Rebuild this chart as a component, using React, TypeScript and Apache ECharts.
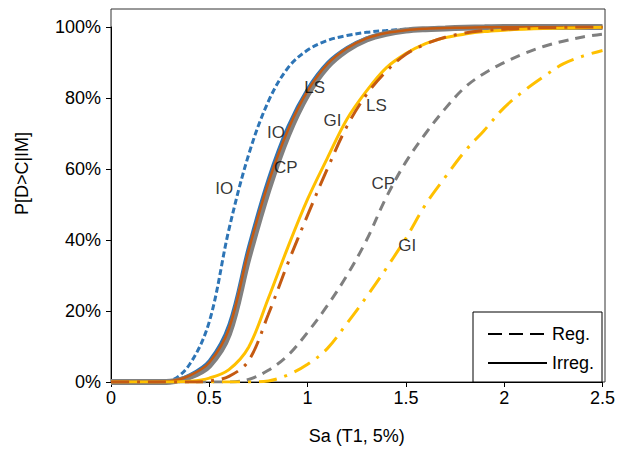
import React, { useEffect, useRef } from "react";
import * as echarts from "echarts";

// Sa (T1, 5%) sample points
const xs = [0, 0.1, 0.2, 0.3, 0.4, 0.5, 0.6, 0.7, 0.8, 0.9, 1.0, 1.1, 1.2, 1.3, 1.4, 1.5, 1.6, 1.7, 1.8, 1.9, 2.0, 2.1, 2.2, 2.3, 2.4, 2.5];

// Regular building fragility curves, P[D>C|IM] in %
const regIO = [0, 0, 0, 0.4, 5, 17, 43, 64, 79, 88.5, 93.5, 96.2, 97.6, 98.5, 99, 99.4, 99.6, 99.7, 99.8, 99.9, 99.9, 100, 100, 100, 100, 100];
const regLS = [0, 0, 0, 0, 0, 0.3, 1.6, 6, 19, 33.5, 47, 60, 72, 81, 87.5, 92.3, 95.2, 97.1, 98.3, 99, 99.4, 99.6, 99.8, 99.9, 100, 100];
const regCP = [0, 0, 0, 0, 0, 0, 0, 0.7, 3.3, 7.5, 14, 21.5, 30, 40, 52, 62, 70, 77, 83, 87, 90, 92.5, 94.5, 96, 97.2, 98];
const regGI = [0, 0, 0, 0, 0, 0, 0, 0, 0.3, 2, 5, 9.4, 16.5, 24, 32, 40.5, 50, 57.7, 65, 71, 77.3, 82, 86, 89.6, 91.8, 93.4];

// Irregular building fragility curves, P[D>C|IM] in %
const irrIO = [0, 0, 0, 0.25, 2, 6, 16.2, 38.2, 57.2, 72, 82.6, 89.9, 94.2, 96.9, 98.4, 99.1, 99.5, 99.7, 99.8, 99.9, 100, 100, 100, 100, 100, 100];
const irrLS = [0, 0, 0, 0.2, 1.8, 5.5, 15, 37, 56, 71, 82, 89.5, 94, 96.8, 98.3, 99.1, 99.5, 99.7, 99.8, 99.9, 100, 100, 100, 100, 100, 100];
const irrCP = [0, 0, 0, 0.1, 1.4, 4.6, 13.5, 35, 54, 69.5, 81, 88.8, 93.5, 96.5, 98.1, 99, 99.4, 99.6, 99.8, 99.9, 100, 100, 100, 100, 100, 100];
const irrGI = [0, 0, 0, 0, 0.2, 1.1, 3.5, 9.8, 23.5, 38, 51.5, 63, 74, 82, 88.5, 92.5, 95.3, 97, 98, 98.7, 99.1, 99.4, 99.6, 99.7, 99.8, 99.9];

// curve annotations
const labelTexts = ["IO", "IO", "CP", "LS", "GI", "LS", "CP", "GI"];
const labelX = [0.576, 0.839, 0.889, 1.036, 1.127, 1.35, 1.385, 1.507];
const labelY = [54.5, 70.3, 60.4, 83.0, 73.7, 77.9, 55.9, 38.5];

// axis ticks
const xTicks = [0, 0.5, 1, 1.5, 2, 2.5];
const yTicks = [0, 20, 40, 60, 80, 100];

const legendNames = ["Reg.", "Irreg."];

const FONT = "'Liberation Sans', Arial, Helvetica, sans-serif";

function pairs(vals: number[]) {
  return xs.map((x, i) => [x, vals[i]]);
}

export default function App() {
  const ref = useRef<HTMLDivElement>(null);
  useEffect(() => {
    document.body.style.margin = "0";
    if (!ref.current) return;
    const chart = echarts.init(ref.current, null, { renderer: "svg" });
    const line = (name: string, vals: number[], color: string, width: number, type: any, z: number) => ({
      name,
      type: "line",
      data: pairs(vals),
      showSymbol: false,
      symbol: "none",
      smooth: 0.35,
      z,
      lineStyle: { color, width, type, cap: "butt" },
      emphasis: { disabled: true },
    });
    const option: any = {
      animation: false,
      grid: { left: 111, right: 13, top: 27, bottom: 69 },
      xAxis: {
        type: "value",
        min: xTicks[0],
        max: xTicks[xTicks.length - 1],
        interval: 0.5,
        name: "Sa (T1, 5%)",
        nameLocation: "middle",
        nameGap: 45,
        nameTextStyle: { fontSize: 18, color: "#000", fontFamily: FONT },
        axisLine: { lineStyle: { color: "#000", width: 1 } },
        axisTick: { show: true, length: 5, lineStyle: { color: "#000" } },
        axisLabel: { fontSize: 18, color: "#000", fontFamily: FONT, margin: 7, formatter: (v: number) => String(v) },
        splitLine: { show: false },
      },
      yAxis: {
        type: "value",
        min: yTicks[0],
        max: yTicks[yTicks.length - 1],
        interval: 20,
        name: "P[D>C|IM]",
        nameLocation: "middle",
        nameRotate: 90,
        nameGap: 80,
        nameTextStyle: { fontSize: 18, color: "#000", fontFamily: FONT, padding: [0, 0, 0, 62] },
        axisLine: { show: true, lineStyle: { color: "#000", width: 1 } },
        axisTick: { show: true, length: 5, lineStyle: { color: "#000" } },
        axisLabel: { fontSize: 18, color: "#000", fontFamily: FONT, margin: 10, formatter: "{value}%" },
        splitLine: { show: false },
      },
      legend: {
        data: legendNames,
        orient: "vertical",
        left: 473,
        top: 312,
        padding: [13, 8, 10, 14],
        itemWidth: 59,
        itemHeight: 14,
        itemGap: 11,
        borderColor: "#000",
        borderWidth: 1,
        backgroundColor: "#fff",
        borderRadius: 0,
        selectedMode: false,
        itemStyle: { color: "rgba(0,0,0,0)", opacity: 0, borderWidth: 0 },
        textStyle: { fontSize: 18, color: "#000", fontFamily: FONT },
      },
      graphic: [
        {
          type: "rect",
          shape: { x: 111, y: 9, width: 494, height: 373 },
          style: { fill: "none", stroke: "#333", lineWidth: 1 },
          z: 0,
          silent: true,
        },
      ],
      series: [
        line("Reg. CP", regCP, "#7f7f7f", 3, [10, 7], 2),
        line("Reg. GI", regGI, "#ffc000", 3, [18, 8, 3, 8], 2),
        line("Reg. IO", regIO, "#2e75b6", 3, [6, 3], 2),
        line("Irr. IO", irrIO, "#2e75b6", 3, "solid", 3),
        line("Irr. CP", irrCP, "#808080", 6, "solid", 3),
        line("Irr. LS", irrLS, "#c55a11", 2.5, "solid", 4),
        line("Irr. GI", irrGI, "#ffc000", 3, "solid", 4),
        line("Reg. LS", regLS, "#c55a11", 3, [18, 8, 3, 8], 5),
        {
          name: "Reg.",
          type: "line",
          data: [],
          symbol: "none",
          itemStyle: { color: "#000" },
          lineStyle: { color: "#000", width: 2, type: [14, 7] },
        },
        {
          name: "Irreg.",
          type: "line",
          data: [],
          symbol: "none",
          itemStyle: { color: "#000" },
          lineStyle: { color: "#000", width: 2, type: "solid" },
        },
        {
          name: "labels",
          type: "scatter",
          symbolSize: 0,
          z: 6,
          data: labelTexts.map((t, i) => [labelX[i], labelY[i], t]),
          label: {
            show: true,
            position: "inside",
            formatter: (p: any) => p.value[2],
            fontSize: 17,
            color: "#000",
            fontFamily: FONT,
          },
          emphasis: { disabled: true },
        },
      ],
    };
    chart.setOption(option);
    return () => chart.dispose();
  }, []);
  return <div ref={ref} style={{ width: 618, height: 451 }} />;
}
